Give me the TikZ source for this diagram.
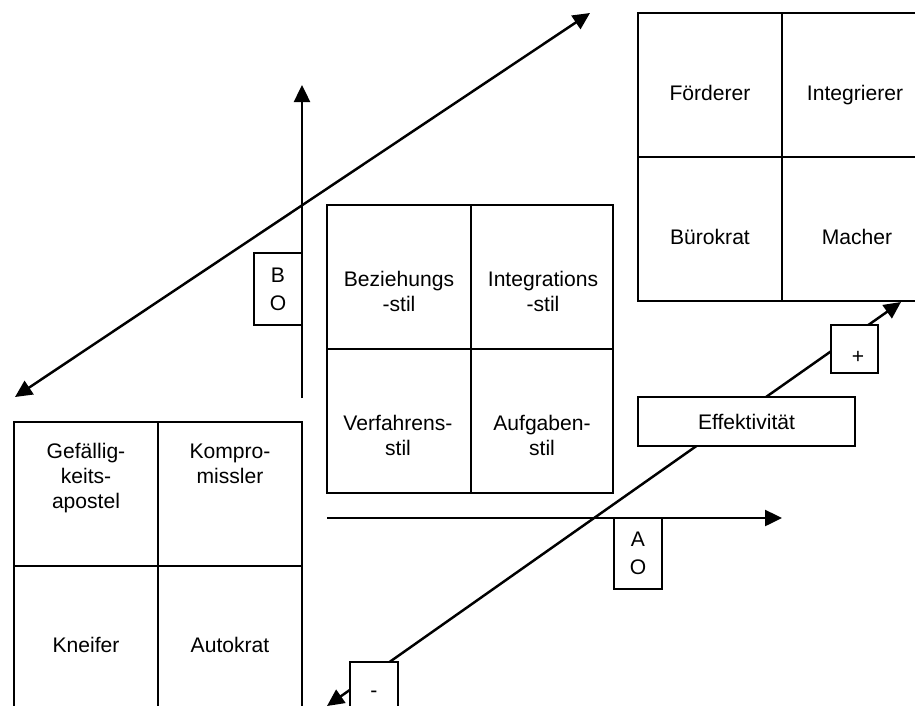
\documentclass[tikz,border=0pt]{standalone}
\usepackage{fontspec}
\setmainfont{Liberation Sans}
\usetikzlibrary{arrows.meta}

\begin{document}
\begin{tikzpicture}[x=0.2mm, y=-0.2mm,
             every node/.style={font=\fontsize{12}{14.2}\selectfont},
             grid/.style={line width=.9pt},
             axis/.style={line width=1.4pt, -{Triangle[length=3.4mm,width=3.2mm]}},
             dblaxis/.style={line width=1.4pt, {Triangle[length=3.4mm,width=3.2mm]}-{Triangle[length=3.4mm,width=3.2mm]}},
             tag/.style={draw, line width=.9pt, fill=white, inner sep=0pt, align=center},
             celltext/.style={align=center, inner sep=0pt}]
             \clip (0,0) rectangle (915,705);

             \draw[grid] (638,13) rectangle (926,301);
             \draw[grid] (782,13) -- (782,301);
             \draw[grid] (638,157) -- (926,157);
             \node[celltext] (foerderer) at (710,93) {Förderer};
             \node[celltext] (integrierer) at (855,95) {Integrierer};
             \node[celltext] (buerokrat) at (710,237) {Bürokrat};
             \node[celltext] (macher) at (857,237) {Macher};

             \draw[grid] (327,205) rectangle (613,493);
             \draw[grid] (471,205) -- (471,493);
             \draw[grid] (327,349) -- (613,349);
             \node[celltext] (beziehung) at (399,291) {Beziehungs\\-stil};
             \node[celltext] (integration) at (543,291) {Integrations\\-stil};
             \node[celltext] (verfahren) at (398,435) {Verfahrens-\\stil};
             \node[celltext] (aufgabe) at (542,435) {Aufgaben-\\stil};

             \draw[grid] (14,422) rectangle (302,710);
             \draw[grid] (158,422) -- (158,710);
             \draw[grid] (14,566) -- (302,566);
             \node[celltext] (gefaellig) at (86,478) {Gefällig-\\keits-\\apostel};
             \node[celltext] (kompro) at (230,464) {Kompro-\\missler};
             \node[celltext] (kneifer) at (86,645) {Kneifer};
             \node[celltext] (autokrat) at (230,645) {Autokrat};

             \coordinate (bo-foot) at (302,398);
             \coordinate (bo-head) at (302,85);
             \coordinate (ao-foot) at (327,518);
             \coordinate (ao-head) at (782,518);
             \coordinate (diag-low) at (15,397);
             \coordinate (diag-high) at (590,13);
             \coordinate (eff-low) at (327,706);
             \coordinate (eff-high) at (901,302);

             \draw[axis] (bo-foot) -- (bo-head);
             \draw[axis] (ao-foot) -- (ao-head);
             \draw[dblaxis] (diag-low) -- (diag-high);
             \draw[dblaxis] (eff-low) -- (eff-high);

             \node[tag, minimum width=.96cm, minimum height=1.44cm] (bo) at (278,289) {B\\[1.7pt]O};
             \node[tag, minimum width=.96cm, minimum height=1.42cm] (ao) at (638,553.5) {A\\[1.5pt]O};
             \node[tag, minimum width=4.34cm, minimum height=.98cm] (effekt) at (746.5,421.5) {Effektivität};
             \node[tag, minimum width=.94cm, minimum height=.96cm,
                   label={[xshift=.07cm, yshift=-.16cm]center:+}] (plus) at (854.5,349) {};
             \node[tag, minimum width=.96cm, minimum height=.96cm,
                   label={[yshift=-.16cm]center:-}] (minus) at (374,686) {};
             \end{tikzpicture}
\end{document}
